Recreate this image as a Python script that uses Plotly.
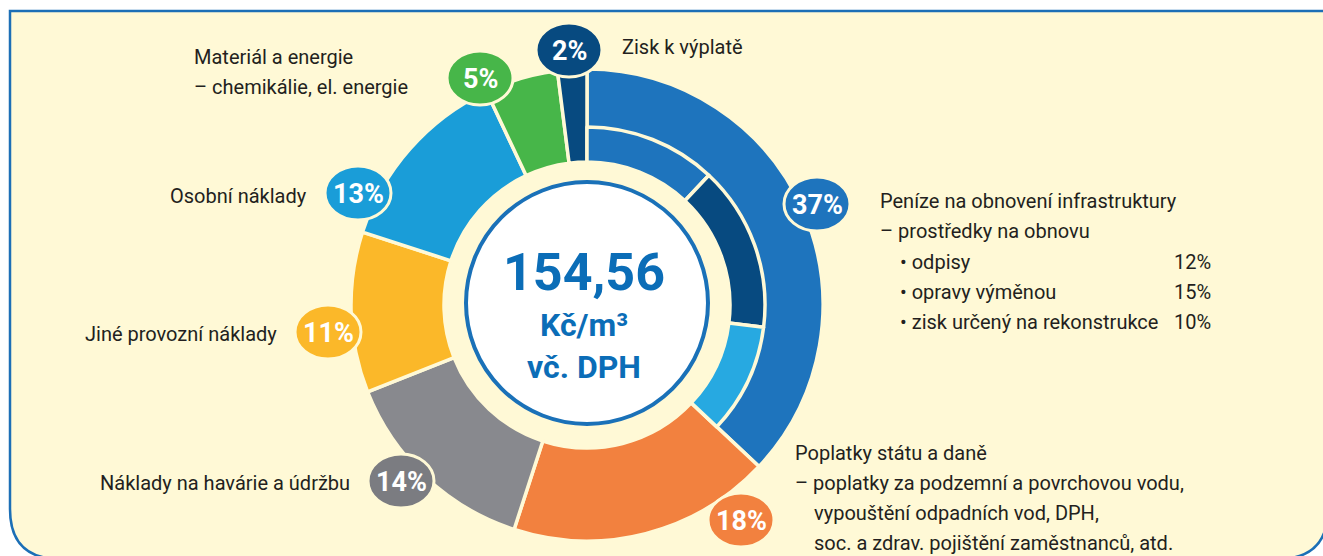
import plotly.graph_objects as go

# ---- data ----
categories = ["Peníze na obnovení infrastruktury", "Poplatky státu a daně",
              "Náklady na havárie a údržbu", "Jiné provozní náklady",
              "Osobní náklady", "Materiál a energie", "Zisk k výplatě"]
values = [37, 18, 14, 11, 13, 5, 2]
colors = ["#1E74BD", "#F2813F", "#88898E", "#FBB829", "#1A9DD8", "#47B649", "#074A80"]

sub_names = ["odpisy", "opravy výměnou", "zisk určený na rekonstrukce", "ostatní"]
sub_values = [12, 15, 10, 63]
sub_colors = ["#1E74BD", "#074A80", "#27A9E1", "rgba(0,0,0,0)"]

total_text = "154,56"
unit_text = "Kč/m³"
vat_text = "vč. DPH"

W, H = 1323, 556
CREAM = "#FFF9D6"
TXT = "#231F20"
BLUE = "#0B6DB7"

def px(x):
    return x / W

def py(y):
    return 1 - y / H

cx, cy = 587, 305
r_out, r_mid, r_in = 236, 178, 143

def dom(r):
    return dict(x=[px(cx - r), px(cx + r)], y=[py(cy + r), py(cy - r)])

fig = go.Figure()
fig.add_trace(go.Pie(
    labels=categories, values=values, sort=False, direction="clockwise", rotation=0,
    hole=r_in / r_out, domain=dom(r_out), textinfo="none", showlegend=False,
    marker=dict(colors=colors, line=dict(color=CREAM, width=3.5)),
))
fig.add_trace(go.Pie(
    labels=sub_names, values=sub_values, sort=False, direction="clockwise", rotation=0,
    hole=r_in / r_mid, domain=dom(r_mid), textinfo="none", showlegend=False,
    marker=dict(colors=sub_colors, line=dict(color=[CREAM, CREAM, CREAM, "rgba(0,0,0,0)"],
                                             width=[3.5, 3.5, 3.5, 0])),
))

shapes = []
# panel with rounded bottom corners
L, T, R, B, rad = 10, 11, 1328, 559, 50
path = (f"M {px(L)},{py(T)} L {px(R)},{py(T)} L {px(R)},{py(B - rad)} "
        f"Q {px(R)},{py(B)} {px(R - rad)},{py(B)} L {px(L + rad)},{py(B)} "
        f"Q {px(L)},{py(B)} {px(L)},{py(B - rad)} Z")
shapes.append(dict(type="path", xref="paper", yref="paper", path=path,
                   fillcolor=CREAM, line=dict(color="#1C6FB6", width=2.5), layer="below"))
# centre circle
rc = 121
shapes.append(dict(type="circle", xref="paper", yref="paper",
                   x0=px(cx - rc), x1=px(cx + rc), y0=py(cy - 2 + rc), y1=py(cy - 2 - rc),
                   fillcolor="white", line=dict(color="#1A71B8", width=4), layer="above"))

# bubbles
bubbles = [("37%", 817, 204, colors[0]), ("18%", 741, 520, colors[1]),
           ("14%", 401, 481, "#7B7C81"), ("11%", 328, 332, colors[3]),
           ("13%", 358, 193, colors[4]), ("5%", 480, 78, colors[5]),
           ("2%", 569, 50, colors[6])]
bw, bh = 33, 27
annotations = []
for t, bx, by, c in bubbles:
    shapes.append(dict(type="circle", xref="paper", yref="paper",
                       x0=px(bx - bw), x1=px(bx + bw), y0=py(by + bh), y1=py(by - bh),
                       fillcolor=c, line=dict(color=CREAM, width=3), layer="above"))
    annotations.append(dict(text=f"<b>{t}</b>", x=px(bx), y=py(by + 1), xref="paper", yref="paper",
                            showarrow=False, xanchor="center", yanchor="middle",
                            font=dict(family="Roboto", size=27, color="white")))

FONT = "Roboto"
FS = 20

def lab(text, x, y, anchor="left"):
    annotations.append(dict(text=text, x=px(x), y=py(y), xref="paper", yref="paper",
                            showarrow=False, xanchor=anchor, yanchor="middle",
                            font=dict(family=FONT, size=FS, color=TXT)))

lab("Materiál a energie", 192, 57)
lab("– chemikálie, el. energie", 192, 87)
lab("Zisk k výplatě", 620, 47)
lab("Osobní náklady", 309, 196, "right")
lab("Jiné provozní náklady", 279, 334, "right")
lab("Náklady na havárie a údržbu", 352, 483, "right")
lab("Peníze na obnovení infrastruktury", 878, 201)
lab("– prostředky na obnovu", 878, 231)
lab("• odpisy", 898, 262)
lab("• opravy výměnou", 898, 292)
lab("• zisk určený na rekonstrukce", 898, 322)
lab("12%", 1213, 262, "right")
lab("15%", 1213, 292, "right")
lab("10%", 1213, 322, "right")
lab("Poplatky státu a daně", 793, 453)
lab("– poplatky za podzemní a povrchovou vodu,", 793, 483)
lab("vypouštění odpadních vod, DPH,", 812, 513)
lab("soc. a zdrav. pojištění zaměstnanců, atd.", 812, 543)

annotations.append(dict(text=f"<b>{total_text}</b>", x=px(cx - 3), y=py(272), xref="paper", yref="paper",
                        showarrow=False, xanchor="center", yanchor="middle",
                        font=dict(family="Roboto", size=52, color=BLUE)))
annotations.append(dict(text=f"<b>{unit_text}</b>", x=px(cx - 3), y=py(325), xref="paper", yref="paper",
                        showarrow=False, xanchor="center", yanchor="middle",
                        font=dict(family="Roboto", size=32, color=BLUE)))
annotations.append(dict(text=f"<b>{vat_text}</b>", x=px(cx - 3), y=py(367), xref="paper", yref="paper",
                        showarrow=False, xanchor="center", yanchor="middle",
                        font=dict(family="Roboto", size=32, color=BLUE)))

fig.update_layout(width=W, height=H, margin=dict(l=0, r=0, t=0, b=0),
                  paper_bgcolor="white", plot_bgcolor="white",
                  shapes=shapes, annotations=annotations, showlegend=False)
fig.write_html("out.html")
